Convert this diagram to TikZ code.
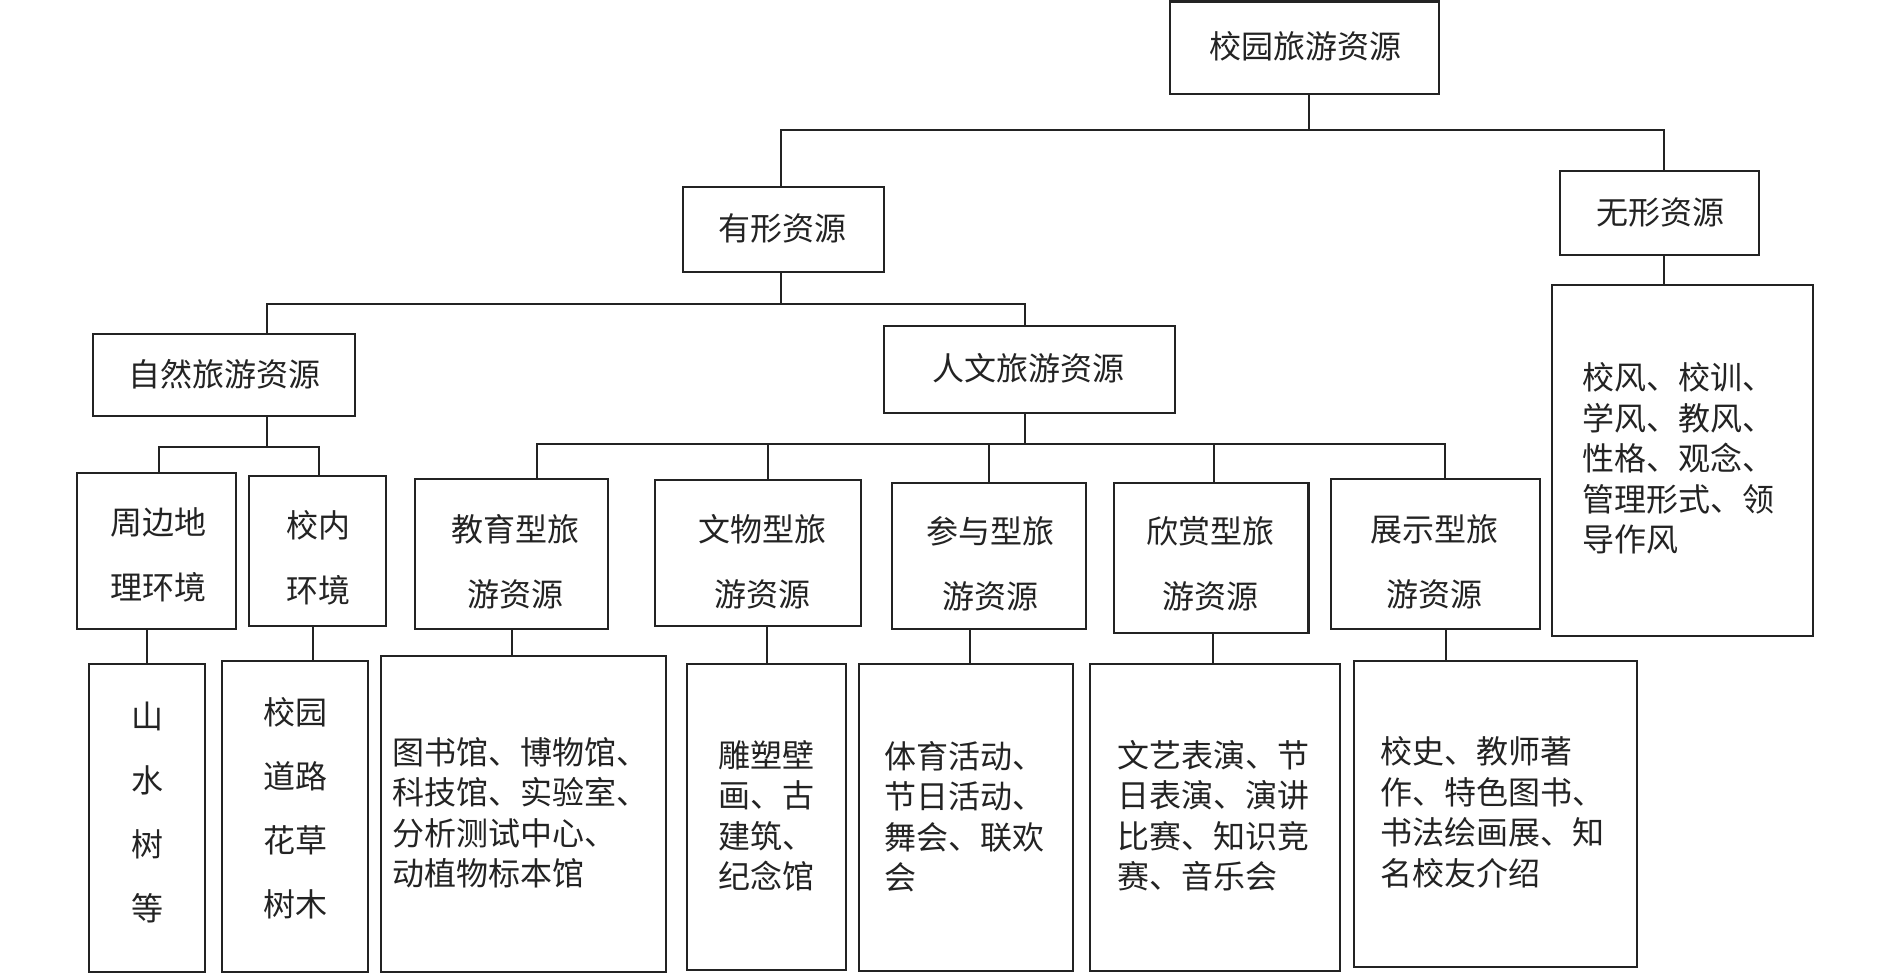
\documentclass[tikz,border=0pt]{standalone}
\usepackage{fontspec}
\newfontfamily\cjk{Noto Sans CJK SC}
\usetikzlibrary{fit}
\definecolor{ink}{RGB}{35,35,35}
\begin{document}
\begin{tikzpicture}[x=1pt,y=-1pt,
  box/.style={draw=ink,line width=2.4pt,inner sep=0pt},
  head/.style={inner sep=0pt,text=ink,align=center,font=\cjk\fontsize{32}{65}\selectfont},
  col/.style={inner sep=0pt,text=ink,align=center,font=\cjk\fontsize{32}{64}\selectfont},
  body/.style={inner sep=0pt,text=ink,align=left,anchor=west,font=\cjk\fontsize{32}{40.5}\selectfont},
  link/.style={draw=ink,line width=2pt}]
\useasboundingbox (0,0) rectangle (1890,975);

% level 0-1
\node[box,fit={(1170,1.5) (1439,94)}] (root) {};
\node[head] (root-t) at (1305,46) {校园旅游资源};
\node[box,fit={(683,187) (884,272)}] (yx) {};
\node[head] (yx-t) at (782,228) {有形资源};
\node[box,fit={(1560,171) (1759,255)}] (wx) {};
\node[head] (wx-t) at (1660,212) {无形资源};
\node[box,fit={(1552,285) (1813,636)}] (wxc) {};
\node[body] (wxc-t) at (1582,458.5) {校风、校训、\\学风、教风、\\性格、观念、\\管理形式、领\\导作风};

% level 2
\node[box,fit={(93,334) (355,416)}] (zr) {};
\node[head] (zr-t) at (224,374) {自然旅游资源};
\node[box,fit={(884,326) (1175,413)}] (rw) {};
\node[head] (rw-t) at (1028,368) {人文旅游资源};

% level 3
\node[box,fit={(77,473) (236,629)}] (zb) {};
\node[head] (zb-t) at (158.5,554.5) {周边地\\理环境};
\node[box,fit={(249,476) (386,626)}] (xn) {};
\node[head] (xn-t) at (318,557.5) {校内\\环境};
\node[box,fit={(415,479) (608,629)}] (jy) {};
\node[head] (jy-t) at (515,561.5) {教育型旅\\游资源};
\node[box,fit={(655,480) (861,626)}] (ww) {};
\node[head] (ww-t) at (762.5,561.5) {文物型旅\\游资源};
\node[box,fit={(892,483) (1086,629)}] (cy) {};
\node[head] (cy-t) at (990,563.5) {参与型旅\\游资源};
\node[box,fit={(1114,483) (1308.5,633)}] (xs) {};
\node[head] (xs-t) at (1210,563.5) {欣赏型旅\\游资源};
\node[box,fit={(1331,479) (1540,629)}] (zs) {};
\node[head] (zs-t) at (1434,561.5) {展示型旅\\游资源};

% level 4
\node[box,fit={(89,664) (205,972)}] (ss) {};
\node[col] (ss-t) at (147,812) {山\\水\\树\\等};
\node[box,fit={(222,661) (368,972)}] (xy) {};
\node[col] (xy-t) at (295,808) {校园\\道路\\花草\\树木};
\node[box,fit={(381,656) (666,972)}] (tsg) {};
\node[body] (tsg-t) at (392,813) {图书馆、博物馆、\\科技馆、实验室、\\分析测试中心、\\动植物标本馆};
\node[box,fit={(687,664) (846,970)}] (ds) {};
\node[body] (ds-t) at (718.5,815.5) {雕塑壁\\画、古\\建筑、\\纪念馆};
\node[box,fit={(859,664) (1073,971)}] (ty) {};
\node[body] (ty-t) at (884,816.5) {体育活动、\\节日活动、\\舞会、联欢\\会};
\node[box,fit={(1090,664) (1340,971)}] (wy) {};
\node[body] (wy-t) at (1117,815.5) {文艺表演、节\\日表演、演讲\\比赛、知识竞\\赛、音乐会};
\node[box,fit={(1354,661) (1637,967)}] (xsh) {};
\node[body] (xsh-t) at (1380,812.5) {校史、教师著\\作、特色图书、\\书法绘画展、知\\名校友介绍};

% bars
\coordinate (b1) at (0,130);
\coordinate (b2) at (0,304);
\coordinate (b3) at (0,447);
\coordinate (b4) at (0,444);

% connectors
\draw[link] ([xshift=4pt]root.south) -- ([xshift=4pt]root.south |- b1);
\draw[link] ([xshift=-2.5pt]yx.north) |- ([xshift=4.5pt]wx.north |- b1) -- ([xshift=4.5pt]wx.north);
\draw[link] ([xshift=4.5pt]wx.south) -- ([xshift=4.5pt]wx.south |- wxc.north);

\draw[link] ([xshift=-2.5pt]yx.south) -- ([xshift=-2.5pt]yx.south |- b2);
\draw[link] ([xshift=43pt]zr.north) |- ([xshift=-5pt]rw.north |- b2) -- ([xshift=-5pt]rw.north);

\draw[link] ([xshift=43pt]zr.south) -- ([xshift=43pt]zr.south |- b3);
\draw[link] ([xshift=2pt]zb.north) |- ([xshift=1.5pt]xn.north |- b3) -- ([xshift=1.5pt]xn.north);

\draw[link] ([xshift=-5pt]rw.south) -- ([xshift=-5pt]rw.south |- b4);
\draw[link] ([xshift=25pt]jy.north) |- ([xshift=9.5pt]zs.north |- b4) -- ([xshift=9.5pt]zs.north);
\draw[link] ([xshift=10pt]ww.north) -- ([xshift=10pt]ww.north |- b4);
\draw[link] (cy.north) -- (cy.north |- b4);
\draw[link] ([xshift=3pt]xs.north) -- ([xshift=3pt]xs.north |- b4);

\draw[link] (ss.north) -- (ss.north |- zb.south);
\draw[link] ([xshift=-4.5pt]xn.south) -- ([xshift=-4.5pt]xn.south |- xy.north);
\draw[link] (jy.south) -- (jy.south |- tsg.north);
\draw[link] (ds.north) -- (ds.north |- ww.south);
\draw[link] ([xshift=4pt]ty.north) -- ([xshift=4pt]ty.north |- cy.south);
\draw[link] ([xshift=2pt]xs.south) -- ([xshift=2pt]xs.south |- wy.north);
\draw[link] ([xshift=10pt]zs.south) -- ([xshift=10pt]zs.south |- xsh.north);
\end{tikzpicture}
\end{document}
